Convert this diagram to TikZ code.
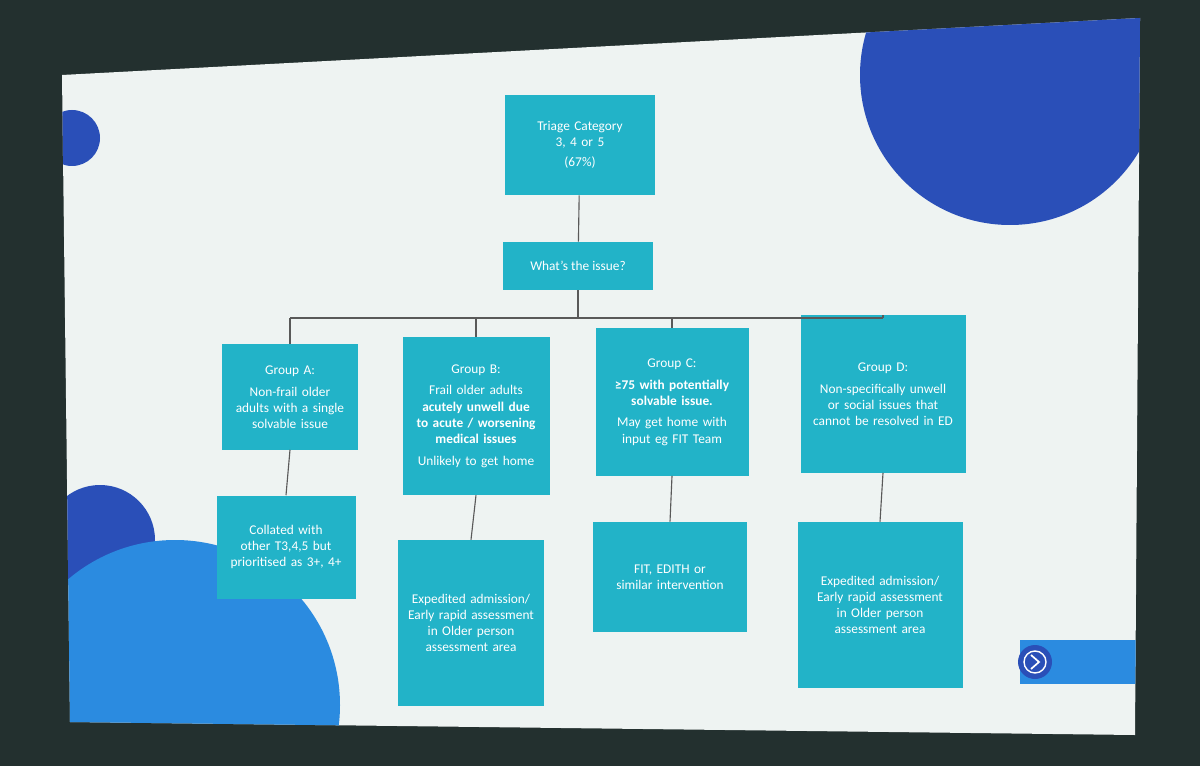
\documentclass[tikz,border=0pt]{standalone}
\usepackage{fontspec}
\setmainfont{Carlito}
\hyphenpenalty=10000
\exhyphenpenalty=10000
\begin{document}
\begin{tikzpicture}[x=0.025cm,y=-0.025cm,
  box/.style={draw=none,fill=boxc,text=white,align=center,inner sep=2pt,font=\fontsize{9.5}{11.5}\selectfont},
  link/.style={draw=gray!70!black,line width=0.8pt}]
\definecolor{boxc}{HTML}{22B3C8}
\definecolor{dblue}{HTML}{2A4FB8}
\definecolor{lblue}{HTML}{2B8BE0}
\definecolor{slide}{HTML}{EEF3F2}
\definecolor{room}{HTML}{23302F}
\useasboundingbox (0,0) rectangle (1200,766);
\fill[room] (0,0) rectangle (1200,766);
\coordinate (s1) at (62,75); \coordinate (s2) at (1140,18);
\coordinate (s3) at (1135,735); \coordinate (s4) at (70,722);
\fill[slide] (s1) -- (s2) -- (s3) -- (s4) -- cycle;
\begin{scope}
\clip (s1) -- (s2) -- (s3) -- (s4) -- cycle;
\fill[dblue] (1010,75) circle (150);
\fill[dblue] (72,138) circle (28);
\fill[dblue] (100,540) circle (55);
\fill[lblue] (175,705) circle (165);
\fill[lblue] (1020,640) rectangle (1140,684);
\fill[dblue] (1035,662) circle (17);
\draw[white,line width=1pt] (1035,662) circle (11);
\draw[white,line width=1.2pt] (1031,655) -- (1039,662) -- (1031,669);
\end{scope}
\node[box,minimum width=150*0.025cm,minimum height=100*0.025cm,text width=3.1cm] (top) at (580,145) {Triage Category 3, 4 or 5\\[3pt](67\%)};
\node[box,minimum width=150*0.025cm,minimum height=48*0.025cm] (iss) at (578,266) {What's the issue?};
\node[box,minimum width=136*0.025cm,minimum height=105*0.025cm,text width=2.9cm] (a) at (290,397) {Group A:\\[4pt]Non-frail older adults with a single solvable issue};
\node[box,minimum width=147*0.025cm,minimum height=158*0.025cm,text width=3.2cm] (b) at (476,416) {Group B:\\[4pt]Frail older adults \textbf{acutely unwell due to acute / worsening medical issues}\\[4pt]Unlikely to get home};
\node[box,minimum width=153*0.025cm,minimum height=147*0.025cm,text width=3.3cm] (c) at (672,402) {Group C:\\[4pt]\textbf{≥75 with potentially solvable issue.}\\[4pt]May get home with input eg FIT Team};
\node[box,minimum width=165*0.025cm,minimum height=157*0.025cm,text width=3.5cm] (d) at (883,394) {Group D:\\[4pt]Non-specifically unwell or social issues that cannot be resolved in ED};
\node[box,minimum width=139*0.025cm,minimum height=103*0.025cm,text width=3.0cm] (a2) at (286,547) {Collated with other T3,4,5 but prioritised as 3+, 4+};
\node[box,minimum width=146*0.025cm,minimum height=166*0.025cm,text width=3.2cm] (b2) at (471,623) {Expedited admission/ Early rapid assessment in Older person assessment area};
\node[box,minimum width=154*0.025cm,minimum height=110*0.025cm,text width=3.1cm] (c2) at (670,577) {FIT, EDITH or similar intervention};
\node[box,minimum width=165*0.025cm,minimum height=166*0.025cm,text width=3.4cm] (d2) at (880,605) {Expedited admission/ Early rapid assessment in Older person assessment area};
\coordinate (bus) at (578,318);
\draw[link] (top) -- (iss);
\draw[link] (iss) -- (bus);
\draw[link] (a.north |- bus) -- (d.north |- bus);
\foreach \n in {a,b,c,d} \draw[link] (\n.north |- bus) -- (\n.north);
\foreach \n in {a,b,c,d} \draw[link] (\n.south) -- (\n2.north);
\end{tikzpicture}
\end{document}
